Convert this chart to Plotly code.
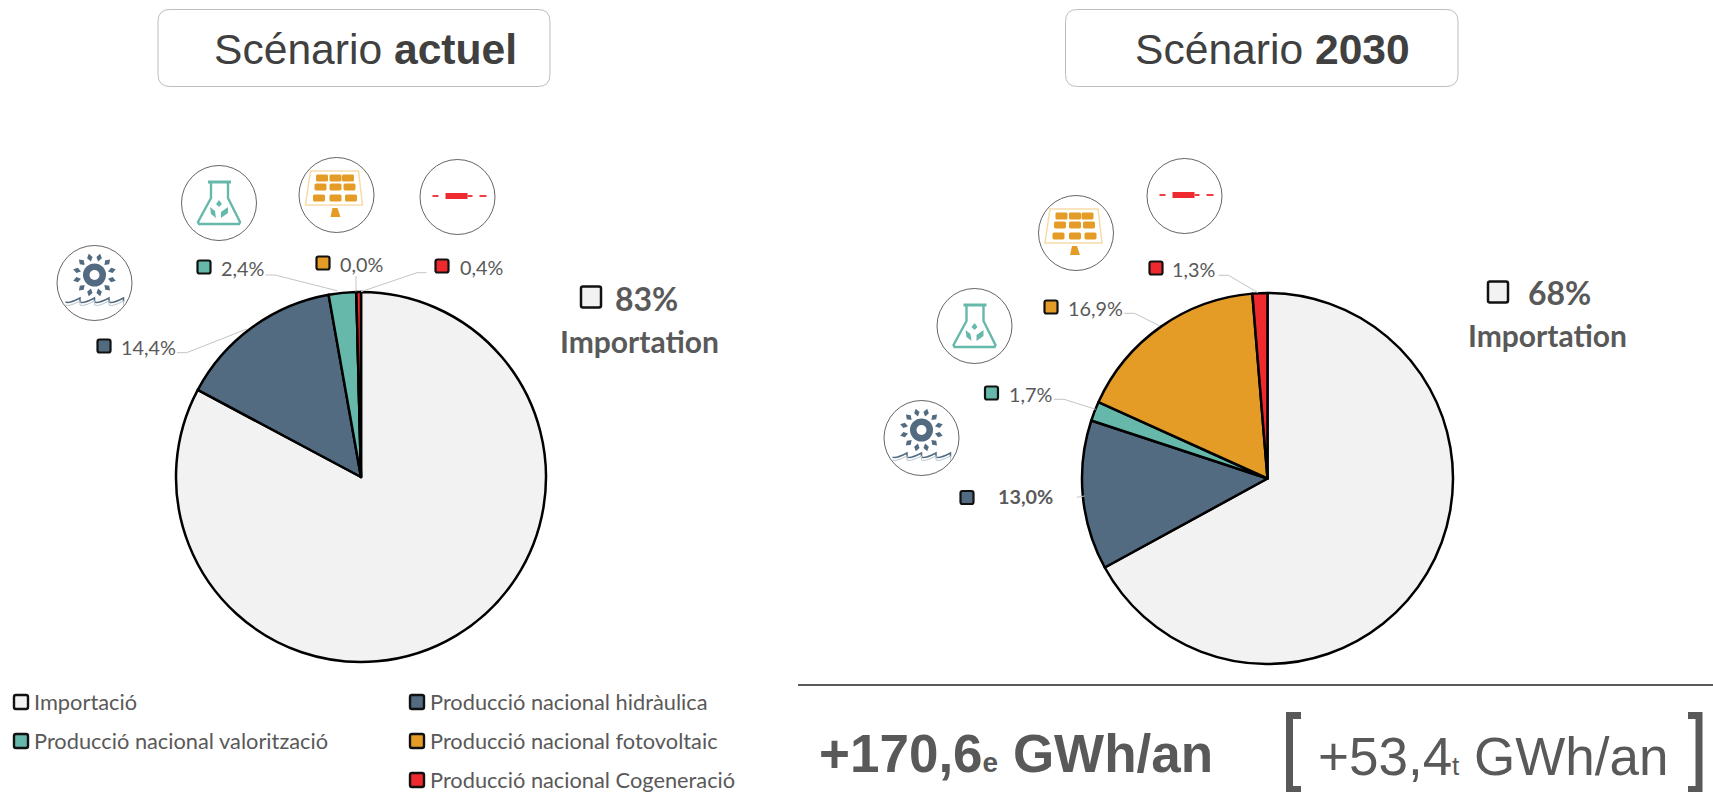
import math
import plotly.graph_objects as go

W, H = 1713, 792

categories = ["Importació", "Producció nacional hidràulica", "Producció nacional valorització",
              "Producció nacional fotovoltaic", "Producció nacional Cogeneració"]
values_actuel = [82.8, 14.4, 2.4, 0.0, 0.4]
values_2030 = [66.9, 13.0, 1.7, 16.9, 1.3]
import_actuel = "83%"
import_2030 = "68%"
import_label = "Importation"
total_elec = "+170,6"
total_therm = "+53,4"
colors = ["#f2f2f2", "#526b80", "#66b9aa", "#e59c27", "#ee2a2e"]

GREY = "#595959"
CAL = "Lato"
HEL = "Liberation Sans"

def X(x): return x / W
def Y(y): return 1 - y / H
def P(pts, close=False):
    return "M" + " L".join(f"{X(a):.5f},{Y(b):.5f}" for a, b in pts) + (" Z" if close else "")

shapes, ann = [], []

def text(x, y, s, size, color=GREY, font=CAL, anchor="left", bold=False, va="middle"):
    if bold:
        s = f"<b>{s}</b>"
    ann.append(dict(x=X(x), y=Y(y), xref="paper", yref="paper", text=s, showarrow=False, xanchor=anchor,
                    yanchor=va, borderpad=0, font=dict(family=font, size=size, color=color)))

def path(d, fill=None, line=None, width=1):
    s = dict(type="path", path=d, xref="paper", yref="paper", line=dict(color=line or "rgba(0,0,0,0)", width=width if line else 0))
    if fill:
        s["fillcolor"] = fill
    shapes.append(s)

def poly(pts, fill=None, line=None, width=1, close=True):
    path(P(pts, close), fill, line, width)

def circle(cx, cy, rx, ry=None, fill=None, line=None, width=1):
    ry = ry or rx
    s = dict(type="circle", xref="paper", yref="paper", x0=X(cx - rx), x1=X(cx + rx), y0=Y(cy + ry), y1=Y(cy - ry),
             line=dict(color=line or "rgba(0,0,0,0)", width=width if line else 0))
    if fill:
        s["fillcolor"] = fill
    shapes.append(s)

def rrect(x0, y0, x1, y1, r, fill=None, line=None, width=1):
    d = (f"M{X(x0+r):.5f},{Y(y0):.5f} L{X(x1-r):.5f},{Y(y0):.5f} Q{X(x1):.5f},{Y(y0):.5f} {X(x1):.5f},{Y(y0+r):.5f} "
         f"L{X(x1):.5f},{Y(y1-r):.5f} Q{X(x1):.5f},{Y(y1):.5f} {X(x1-r):.5f},{Y(y1):.5f} "
         f"L{X(x0+r):.5f},{Y(y1):.5f} Q{X(x0):.5f},{Y(y1):.5f} {X(x0):.5f},{Y(y1-r):.5f} "
         f"L{X(x0):.5f},{Y(y0+r):.5f} Q{X(x0):.5f},{Y(y0):.5f} {X(x0+r):.5f},{Y(y0):.5f} Z")
    path(d, fill, line, width)

def swatch(cx, cy, color, w=13, h=13, lw=2.2):
    rrect(cx - w/2, cy - h/2, cx + w/2, cy + h/2, 2, color, "#111111", lw)

def leader(pts):
    poly(pts, None, "#c4c4c4", 1, close=False)

# ---- icons ----
def badge(cx, cy):
    circle(cx, cy, 37.5, fill="#ffffff", line="#222222", width=0.7)

def flask(cx, cy):
    badge(cx, cy)
    c = colors[2]
    poly([(cx-11, cy-21), (cx+12, cy-21)], None, c, 3, close=False)
    poly([(cx-8, cy-20), (cx-8, cy-5), (cx-21, cy+19), (cx-20, cy+21), (cx+20, cy+21), (cx+21, cy+19),
          (cx+9, cy-5), (cx+9, cy-20)], None, c, 2.4, close=False)
    poly([(cx, cy-3), (cx+3, cy+1), (cx, cy+4), (cx-3, cy+1)], c)
    poly([(cx-9, cy+4), (cx-4, cy+8), (cx-3, cy+15), (cx-8, cy+11)], c)
    poly([(cx+9, cy+4), (cx+9, cy+10), (cx+2, cy+15), (cx+2, cy+9)], c)

def solar(cx, cy):
    badge(cx, cy)
    c = colors[3]
    poly([(cx-26, cy-24), (cx+22, cy-24), (cx+26, cy+10), (cx-31, cy+10)], None, "#f6dca8", 1.5)
    for row, yy in enumerate([-17, -8, 3]):
        for col, xx in enumerate([-16, -1, 13]):
            shift = (row - 1) * (col - 1) * 1.5
            rrect(cx+xx-6+shift, cy+yy-3.5, cx+xx+6+shift, cy+yy+3.5, 1.5, c)
    poly([(cx-4, cy+13), (cx+1, cy+13), (cx+4, cy+22), (cx-6, cy+22)], c)

def cogen(cx, cy):
    badge(cx, cy)
    c = colors[4]
    poly([(cx-25, cy-1), (cx-19, cy-1)], None, c, 1.8, close=False)
    poly([(cx+22, cy-1), (cx+29, cy-1)], None, c, 1.8, close=False)
    poly([(cx-12, cy-4), (cx+10, cy-4), (cx+10, cy+2), (cx-12, cy+2)], c)
    poly([(cx+10, cy-1), (cx+15, cy-1)], None, c, 1.8, close=False)

def hydro(cx, cy):
    badge(cx, cy)
    c = colors[1]
    gy = cy - 8
    for i in range(12):
        a = math.radians(i * 30 + 15)
        ca, sa = math.cos(a), math.sin(a)
        pts = [(cx + 14*ca, gy + 14*sa), (cx + 18*ca - 2.8*sa, gy + 18*sa + 2.8*ca),
               (cx + 22*ca, gy + 22*sa), (cx + 18*ca + 2.8*sa, gy + 18*sa - 2.8*ca)]
        poly(pts, c)
    circle(cx, gy, 11.5, fill=c)
    circle(cx, gy, 5, fill="#ffffff")
    for yy, col, lw in [(19, c, 1.5), (22, "#b9c5cf", 1)]:
        d = P([(cx-29, cy+yy)])
        x = cx - 29
        while x < cx + 28:
            d += f" Q{X(x+3):.5f},{Y(cy+yy+2):.5f} {X(x+14.5):.5f},{Y(cy+yy-4):.5f}"
            x += 14.5
            d += f" L{X(x):.5f},{Y(cy+yy):.5f}"
        path(d, None, col, lw)

flask(219, 203); solar(336.5, 195); cogen(457.5, 197); hydro(94.5, 283)
cogen(1184.5, 196); solar(1076, 233); flask(974.5, 326); hydro(921.5, 438)

# ---- title boxes ----
rrect(158, 9.5, 550, 86.5, 12, None, "#bdbdbd", 1)
rrect(1065.5, 9.5, 1458, 86.5, 12, None, "#bdbdbd", 1)
text(212.5, 49, "Scénario <b>actuel</b>", 42.6, "#404040", HEL)
text(1133.5, 49, "Scénario <b>2030</b>", 42.6, "#404040", HEL)

# ---- slice labels ----
def pct(v): return f"{v:.1f}".replace(".", ",") + "%"
SZ = 19.8
swatch(104, 346, colors[1]); text(120, 347, pct(values_actuel[1]), SZ)
swatch(204, 267, colors[2]); text(219.5, 268, pct(values_actuel[2]), SZ)
swatch(323, 263, colors[3]); text(338.5, 264, pct(values_actuel[3]), SZ)
swatch(442, 266, colors[4]); text(458.5, 267, pct(values_actuel[4]), SZ)
leader([(177, 352.7), (186.6, 352.7), (247, 329)])
leader([(265.6, 275), (275, 275), (337, 290.7)])
leader([(356, 276), (356, 291.7)])
leader([(426.6, 272.7), (417, 272.7), (361, 291.7)])

swatch(1156, 268, colors[4]); text(1171, 269, pct(values_2030[4]), SZ)
swatch(1051, 307, colors[3]); text(1067, 308, pct(values_2030[3]), SZ)
swatch(991.5, 393, colors[2]); text(1008, 394, pct(values_2030[2]), SZ)
swatch(967, 497.5, colors[1]); text(997, 496, pct(values_2030[1]), SZ, bold=True)
leader([(1218.7, 275.3), (1228.4, 275.3), (1258, 292.7)])
leader([(1124.3, 313.3), (1134.5, 313.3), (1160, 326)])
leader([(1054, 399.3), (1064, 399.3), (1095.7, 409.3)])
leader([(1076.8, 497.3), (1084.5, 496)])

# ---- import callouts ----
swatch(591, 297, colors[0], 20, 21, 2.5); text(614, 298, import_actuel, 32, bold=True)
text(559, 340.5, import_label, 30, bold=True)
swatch(1498, 292, colors[0], 20, 21, 2.5); text(1527, 292, import_2030, 32, bold=True)
text(1467, 334.5, import_label, 30, bold=True)

# ---- legend ----
leg = [(21, 702, 0), (417, 702, 1), (21, 741, 2), (417, 741, 3), (417, 780, 4)]
for x, y, i in leg:
    swatch(x, y, colors[i], 14, 14, 2.4)
    text(x + 11.5, y - 1, categories[i], 21.8)

# ---- bottom totals ----
shapes.append(dict(type="line", xref="paper", yref="paper", x0=X(798), x1=X(1713), y0=Y(685), y1=Y(685),
                   line=dict(color=GREY, width=2)))
text(818, 753, f'{total_elec}<span style="font-size:28px">e</span> GWh/an', 53, GREY, HEL, bold=True)
text(1317, 756, f'{total_therm}<span style="font-size:26px">t</span> GWh/an', 53, GREY, HEL)
poly([(1301, 715.5), (1289.5, 715.5), (1289.5, 789.5), (1301, 789.5)], None, GREY, 7, close=False)
poly([(1688, 715.5), (1699, 715.5), (1699, 789.5), (1688, 789.5)], None, GREY, 7, close=False)

def pie(vals, cx, cy, r):
    return go.Pie(values=vals, labels=categories, sort=False, direction="clockwise", rotation=0,
                  textinfo="none", hoverinfo="label+percent", showlegend=False,
                  marker=dict(colors=colors, line=dict(color="#000000", width=2.5)),
                  domain=dict(x=[X(cx - r), X(cx + r)], y=[Y(cy + r), Y(cy - r)]))

fig = go.Figure([pie(values_actuel, 361, 477, 185), pie(values_2030, 1267.5, 478.5, 185.5)])
fig.update_layout(width=W, height=H, margin=dict(l=0, r=0, t=0, b=0), paper_bgcolor="#ffffff",
                  shapes=shapes, annotations=ann, showlegend=False)
fig.write_html("out.html", config=dict(displayModeBar=False),
               post_script="document.body.style.margin='0';document.body.style.overflow='hidden';")
